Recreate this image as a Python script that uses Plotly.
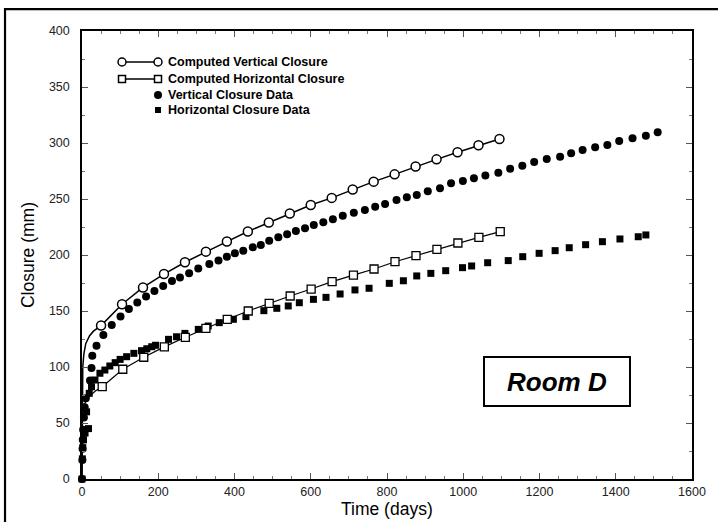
import plotly.graph_objects as go

# ---- Computed (model) curves: smooth line points and the marked sample points ----
vert_model_curve_t = [0, 0.5, 1, 2, 5, 10, 20, 30, 50]
vert_model_curve_c = [0, 60, 85, 100, 112, 121, 128, 132, 137]
vert_model_t = [50, 105, 160, 215, 270, 325, 380, 435, 490, 545, 600, 655, 710,
                765, 820, 875, 930, 985, 1040, 1095]
vert_model_c = [137, 156, 171, 183, 193.5, 203, 212, 221, 229, 237, 244.6, 251,
                258.5, 265.5, 272, 279, 285.4, 291.7, 298, 303.6]

horz_model_curve_t = [0, 0.5, 1, 3, 8, 20, 35, 53]
horz_model_curve_c = [0, 40, 55, 63, 68, 74, 78.5, 82.4]
horz_model_t = [53, 107, 162, 216, 271, 325, 381, 436, 491, 546, 601, 656, 712,
                766, 821, 876, 931, 986, 1041, 1097]
horz_model_c = [82.4, 98, 108.7, 118, 126.5, 134.5, 142.6, 150, 156.8, 163.4,
                169.6, 176.2, 182, 187.5, 194, 199.4, 205, 210.7, 215.8, 220.8]

# ---- Measured closure data ----
vert_data_t = [0, 1, 1.5, 2, 3, 5, 7, 10, 21, 25, 27, 38, 56, 78, 101, 123, 145,
               168, 190, 213, 236, 257, 281, 305, 334, 358, 380, 401, 423, 448,
               469, 491, 515, 538, 561, 585, 608, 633, 658, 684, 713, 742, 769,
               795, 825, 852, 878, 907, 939, 968, 999, 1028, 1058, 1092, 1123,
               1155, 1186, 1219, 1254, 1283, 1313, 1346, 1378, 1409, 1444, 1479,
               1510]
vert_data_c = [0, 17, 27, 35, 44, 55, 64, 72, 88, 99, 110, 119, 128.6, 137.5,
               145, 151.8, 157.7, 163, 167.8, 172.3, 176.8, 180, 183.6, 188, 192,
               195, 198.5, 201.5, 203.9, 206.9, 209, 212.8, 215.8, 218.5, 221.4,
               223.8, 226.8, 229.2, 232, 235, 237.8, 240.2, 243, 245.5, 249,
               251.5, 253.6, 257, 259.5, 264, 266, 268.5, 271, 273.5, 277, 279.7,
               283, 285.7, 287.8, 290.8, 293.8, 296.2, 298.2, 301.8, 304.2,
               306.5, 309.5]

horz_data_t = [0, 1, 2, 4, 8, 17, 12, 19, 25, 34, 47, 60, 73, 87, 100, 117, 136,
               156, 170, 183, 193, 227, 248, 270, 305, 331, 360, 397, 430, 477,
               511, 541, 570, 607, 640, 677, 716, 753, 806, 843, 878, 915, 954,
               998, 1022, 1064, 1118, 1156, 1199, 1241, 1278, 1321, 1365, 1411,
               1459, 1479]
horz_data_c = [0, 18, 28, 35, 41, 45, 60, 76.5, 82.4, 88.4, 94.4, 97.3, 100.9,
               103.9, 106.8, 109.2, 112.2, 114.6, 116.3, 118.1, 119.4, 124.7,
               127, 130, 133.6, 136.6, 139.6, 142.6, 145, 150.3, 152.4, 154.5,
               157.4, 160.4, 162.2, 165.2, 168.8, 170.3, 174.7, 177, 181.3,
               183.6, 186, 188.7, 190.2, 193.1, 195, 198.5, 201.5, 203.9, 206.5,
               209.2, 211.9, 214.3, 216.3, 217.9]

x_ticks = [0, 200, 400, 600, 800, 1000, 1200, 1400, 1600]
y_ticks = [0, 50, 100, 150, 200, 250, 300, 350, 400]

legend_labels = ["Computed Vertical Closure", "Computed Horizontal Closure",
                 "Vertical Closure Data", "Horizontal Closure Data"]

FONT = "Liberation Sans, Arial, Helvetica, sans-serif"
BLACK = "#000000"

fig = go.Figure()

# model curves (lines)
fig.add_trace(go.Scatter(x=vert_model_curve_t + vert_model_t,
                         y=vert_model_curve_c + vert_model_c,
                         mode="lines", line=dict(color=BLACK, width=1.5),
                         hoverinfo="skip", showlegend=False))
fig.add_trace(go.Scatter(x=horz_model_curve_t + horz_model_t,
                         y=horz_model_curve_c + horz_model_c,
                         mode="lines", line=dict(color=BLACK, width=1.2),
                         hoverinfo="skip", showlegend=False))

# measured data
fig.add_trace(go.Scatter(x=vert_data_t, y=vert_data_c, mode="markers",
                         marker=dict(symbol="circle", size=8, color=BLACK,
                                     line=dict(width=0)),
                         cliponaxis=False, showlegend=False))
fig.add_trace(go.Scatter(x=horz_data_t, y=horz_data_c, mode="markers",
                         marker=dict(symbol="square", size=7, color=BLACK,
                                     line=dict(width=0)),
                         cliponaxis=False, showlegend=False))

# model sample markers (hollow)
fig.add_trace(go.Scatter(x=vert_model_t, y=vert_model_c, mode="markers",
                         marker=dict(symbol="circle", size=9, color="white",
                                     line=dict(color=BLACK, width=1.5)),
                         showlegend=False))
fig.add_trace(go.Scatter(x=horz_model_t, y=horz_model_c, mode="markers",
                         marker=dict(symbol="square", size=8, color="white",
                                     line=dict(color=BLACK, width=1.3)),
                         showlegend=False))

# ---- hand-drawn legend on an overlay axis measured in pixels from the plot corner ----
leg_rows = [31, 48, 64, 79]
leg_x0, leg_x1, leg_text_x = 40, 76, 84
for i, y in enumerate(leg_rows[:2]):
    sym = "circle" if i == 0 else "square"
    fig.add_trace(go.Scatter(x=[leg_x0, leg_x1], y=[y, y], mode="lines+markers",
                             xaxis="x2", yaxis="y2",
                             line=dict(color=BLACK, width=1.3),
                             marker=dict(symbol=sym, size=8 if i == 0 else 7,
                                         color="white",
                                         line=dict(color=BLACK, width=1.5)),
                             hoverinfo="skip", showlegend=False))
fig.add_trace(go.Scatter(x=[leg_x1], y=[leg_rows[2]], mode="markers",
                         xaxis="x2", yaxis="y2",
                         marker=dict(symbol="circle", size=8, color=BLACK),
                         hoverinfo="skip", showlegend=False))
fig.add_trace(go.Scatter(x=[leg_x1], y=[leg_rows[3]], mode="markers",
                         xaxis="x2", yaxis="y2",
                         marker=dict(symbol="square", size=6, color=BLACK),
                         hoverinfo="skip", showlegend=False))

annotations = []
for label, y in zip(legend_labels, leg_rows):
    annotations.append(dict(x=leg_text_x, y=y, xref="x2", yref="y2",
                            text="<b>" + label + "</b>", showarrow=False,
                            xanchor="left", yanchor="middle",
                            font=dict(family=FONT, size=12.5, color=BLACK)))

# axis titles
annotations.append(dict(x=0.5, y=-0.068, xref="paper", yref="paper",
                        text="Time (days)", showarrow=False,
                        xanchor="center", yanchor="middle",
                        font=dict(family=FONT, size=17.5, color=BLACK)))
annotations.append(dict(x=-0.0885, y=0.5, xref="paper", yref="paper",
                        text="Closure (mm)", showarrow=False, textangle=-90,
                        xanchor="center", yanchor="middle",
                        font=dict(family=FONT, size=17.5, color=BLACK)))

# room label box
annotations.append(dict(x=0.7787, y=0.2176, xref="paper", yref="paper",
                        text="<b><i>Room D</i></b>", showarrow=False,
                        xanchor="center", yanchor="middle",
                        width=144, height=47, borderwidth=2, borderpad=0,
                        bordercolor=BLACK, bgcolor="white",
                        font=dict(family=FONT, size=26, color=BLACK)))

axis_common = dict(showgrid=False, zeroline=False, showline=True,
                   linecolor=BLACK, linewidth=1.5, mirror="ticks",
                   ticks="inside", ticklen=6, tickwidth=1, tickcolor="#555",
                   tickfont=dict(family=FONT, size=12.5, color="#222"))

fig.update_layout(
    width=718, height=522,
    margin=dict(l=82, r=26, t=31, b=43),
    paper_bgcolor="white", plot_bgcolor="white",
    showlegend=False,
    xaxis=dict(range=[0, 1600], tickvals=x_ticks,
               minor=dict(dtick=50, ticks="inside", ticklen=3,
                          tickcolor="#777", tickwidth=1),
               ticklabelstandoff=0, **axis_common),
    yaxis=dict(range=[0, 400], tickvals=y_ticks,
               minor=dict(dtick=25, ticks="inside", ticklen=3,
                          tickcolor="#777", tickwidth=1),
               ticklabelstandoff=8, **axis_common),
    xaxis2=dict(overlaying="x", range=[0, 610], visible=False),
    yaxis2=dict(overlaying="y", range=[448, 0], visible=False),
    annotations=annotations,
    shapes=[dict(type="rect", xref="paper", yref="paper",
                 x0=-0.1262, x1=1.07, y0=-0.15, y1=1.049,
                 line=dict(color=BLACK, width=2.2), layer="above")],
)

fig.write_html("out.html")
